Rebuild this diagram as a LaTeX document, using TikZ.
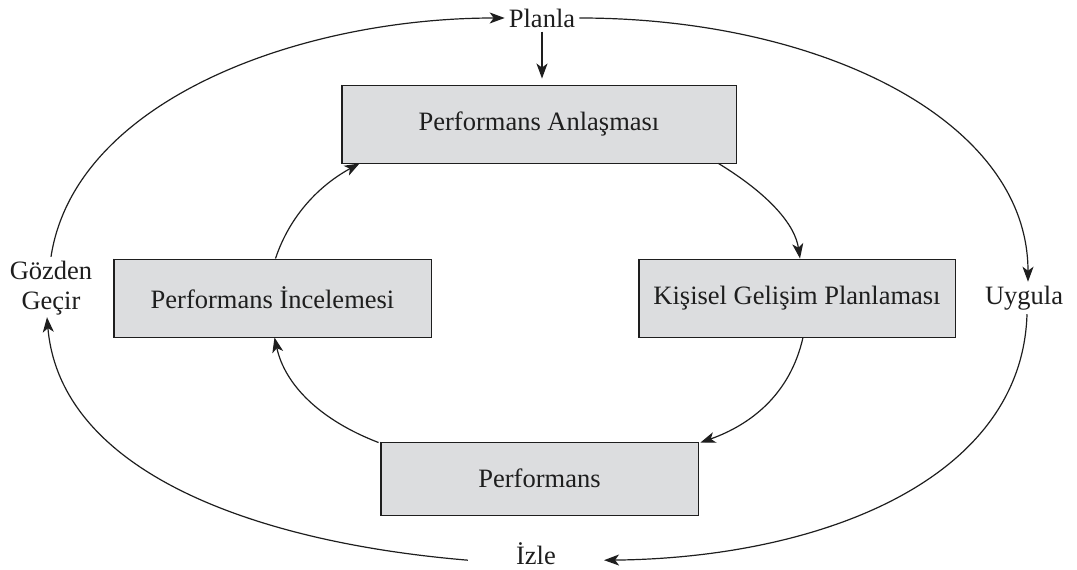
\documentclass[tikz,border=0pt]{standalone}
\usepackage{fontspec}
\setmainfont{Liberation Serif}
\usetikzlibrary{arrows.meta,calc}
\definecolor{boxfill}{HTML}{DCDDDF}
\definecolor{ink}{HTML}{1E1E1E}
\tikzset{
  every node/.style={font=\fontsize{26.5}{30}\selectfont, text=ink},
  procbox/.style={draw=ink, fill=boxfill, line width=0.9pt, inner sep=0pt, align=center},
  tag/.style={inner sep=4pt, align=center},
  flow/.style={draw=ink, line width=1.2pt, -{Stealth[length=15pt,width=11pt,inset=4pt]}},
}
\begin{document}
\begin{tikzpicture}[x=1pt,y=1pt]
  \useasboundingbox (0,0) rectangle (1077,570);

  % process boxes
  \node[procbox, minimum width=394pt, minimum height=78pt] (A) at (539,446) {Performans Anlaşması};
  \node[procbox, minimum width=317pt, minimum height=78pt] (I) at (272.5,272) {Performans İncelemesi};
  \node[procbox, minimum width=316pt, minimum height=78pt] (K) at (797,272) {Kişisel Gelişim Planlaması};
  \node[procbox, minimum width=317pt, minimum height=73pt] (P) at (539.5,91.5) {Performans};

  % heavier left and bottom edges
  \foreach \b in {A,I,K,P}
    \draw[ink, line width=1.7pt] (\b.north west) -- (\b.south west) -- (\b.south east);

  % cycle labels
  \node[tag] (planla) at (542,552) {Planla};
  \node[tag] (gozden) at (51,282) {Gözden\\Geçir};
  \node[tag] (uygula) at (1024,272) {Uygula};
  \node[tag, inner xsep=50pt, inner ysep=0pt, anchor=base] (izle) at (536,5) {İzle};

  % outer cycle
  \draw[flow] (gozden.north) .. controls (75,470) and (300,552) .. (planla.west);
  \draw[flow] (planla.east) .. controls (820,552) and (1028,450) .. ($(uygula.north)+(4,0)$);
  \draw[flow] ($(uygula.south)+(3,0)$) .. controls (1022,90) and (820,12) .. ($(izle.east)+(-2,-6)$);
  \draw[flow] ($(izle.west)+(2,-6)$) .. controls (250,28) and (60,100) .. ($(gozden.south)+(-4,2)$);
  \draw[flow, shorten >=6pt] (planla.south) -- (A.north -| planla.south);

  % inner cycle
  \draw[flow] ($(A.south east)+(-18,0)$) .. controls (770,375) and (795,345) .. ($(K.north)+(3,0)$);
  \draw[flow] ($(K.south)+(6,0)$) .. controls (790,175) and (750,145) .. ($(P.north east)+(2,-1)$);
  \draw[flow] ($(P.north west)+(-2,-1)$) .. controls (320,150) and (285,185) .. ($(I.south)+(2,0)$);
  \draw[flow] ($(I.north)+(3,0)$) .. controls (290,355) and (320,385) .. ($(A.south west)+(18,0)$);
\end{tikzpicture}
\end{document}
